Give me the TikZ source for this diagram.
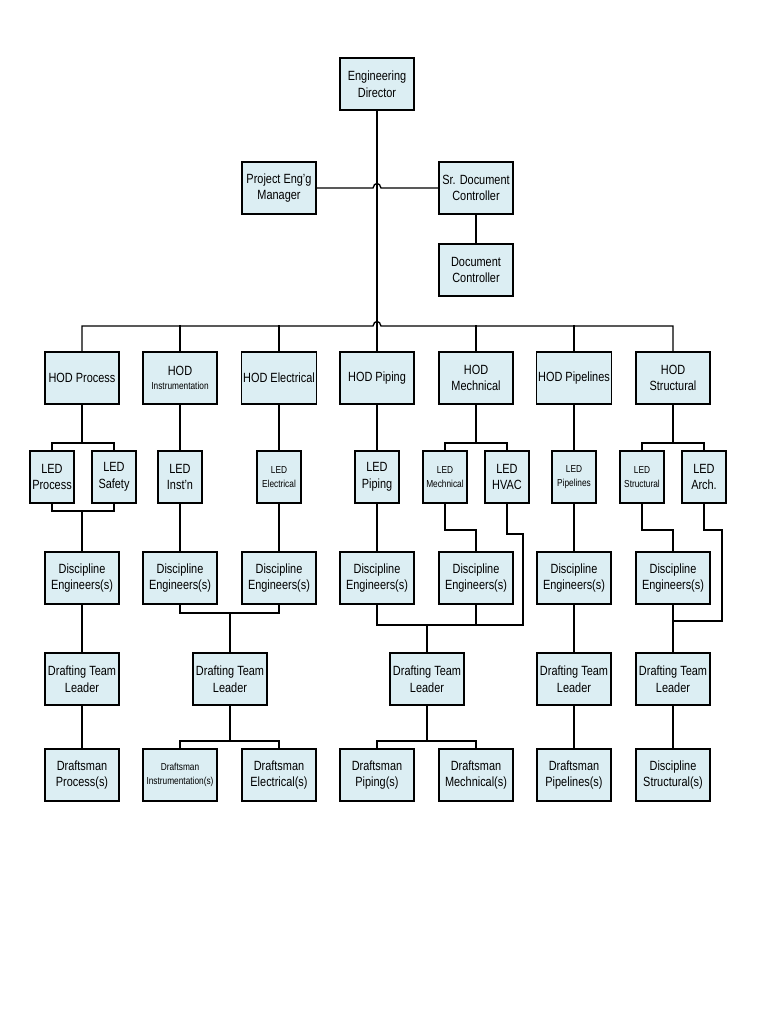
\documentclass[tikz,border=0pt]{standalone}
\usepackage{fontspec}
\setmainfont{Liberation Sans}[FakeStretch=0.82]
\usetikzlibrary{positioning}
\definecolor{boxblue}{RGB}{220,238,243}
\tikzstyle{box} = [rectangle, minimum width=55.5pt, minimum height=39pt, inner sep=1pt, align=center, draw=black, fill=boxblue, line width=0.9pt, font=\fontsize{10}{12.5}\selectfont]
\tikzstyle{led} = [box, minimum width=33pt]
\tikzstyle{tiny} = [font=\fontsize{7.6}{10}\selectfont]
\tikzstyle{line} = [line width=1pt]

\begin{document}
\begin{tikzpicture}[x=0.75pt, y=-0.75pt]
  \useasboundingbox (0,0) rectangle (768,1024);
  % top
  \node (dir) [box] at (377,84) {Engineering\\Director};
  \node (pem) [box] at (279,188) {Project Eng'g\\Manager};
  \node (sdc) [box] at (476,188) {Sr. Document\\Controller};
  \node (dc) [box] at (476,270) {Document\\Controller};
  % HODs
  \node (hproc) [box] at (82,378) {HOD Process};
  \node (hinst) [box, tiny] at (180,378) {\fontsize{10}{12.5}\selectfont HOD\\Instrumentation};
  \node (helec) [box] at (279,378) {HOD Electrical};
  \node (hpip) [box] at (377,378) {HOD Piping};
  \node (hmech) [box] at (476,378) {HOD\\Mechnical};
  \node (hpl) [box] at (574,378) {HOD Pipelines};
  \node (hstr) [box] at (673,378) {HOD\\Structural};
  % LEDs
  \node (lproc) [led] at (52,477) {LED\\Process};
  \node (lsaf) [led] at (114,477) {LED\\Safety};
  \node (linst) [led] at (180,477) {LED\\Inst'n};
  \node (lelec) [led, tiny] at (279,477) {LED\\Electrical};
  \node (lpip) [led] at (377,477) {LED\\Piping};
  \node (lmech) [led, tiny] at (445,477) {LED\\Mechnical};
  \node (lhvac) [led] at (507,477) {LED\\HVAC};
  \node (lpl) [led, tiny] at (574,477) {LED\\Pipelines};
  \node (lstr) [led, tiny] at (642,477) {LED\\Structural};
  \node (larch) [led] at (704,477) {LED\\Arch.};
  % discipline engineers
  \foreach \n/\x in {dproc/82,dinst/180,delec/279,dpip/377,dmech/476,dpl/574,dstr/673}
    \node (\n) [box] at (\x,578) {Discipline\\Engineers(s)};
  % drafting team leaders
  \foreach \n/\x in {tproc/82,tie/230,tpm/427,tpl/574,tstr/673}
    \node (\n) [box] at (\x,679) {Drafting Team\\Leader};
  % draftsmen
  \node (fproc) [box] at (82,775) {Draftsman\\Process(s)};
  \node (finst) [box, tiny] at (180,775) {Draftsman\\Instrumentation(s)};
  \node (felec) [box] at (279,775) {Draftsman\\Electrical(s)};
  \node (fpip) [box] at (377,775) {Draftsman\\Piping(s)};
  \node (fmech) [box] at (476,775) {Draftsman\\Mechnical(s)};
  \node (fpl) [box] at (574,775) {Draftsman\\Pipelines(s)};
  \node (fstr) [box] at (673,775) {Discipline\\Structural(s)};
  %now connect
  \begin{scope}[line]
  \draw (dir) -- (377,326);
  \draw (pem.east) -- (373,188) .. controls (374,182) and (380,182) .. (381,188) -- (sdc.west);
  \draw (sdc) -- (dc);
  \draw (82,352) |- (373,326) .. controls (374,320) and (380,320) .. (381,326) -| (673,352);
  \foreach \n in {hinst,helec,hpip,hmech,hpl}
    \draw (\n.north) -- ++(0,-26);
  \draw (hproc) -- (82,443);
  \draw (lproc.north) |- (82,443) -| (lsaf.north);
  \draw (hinst) -- (linst);
  \draw (helec) -- (lelec);
  \draw (hpip) -- (lpip);
  \draw (hmech) -- (476,443);
  \draw (lmech.north) |- (476,443) -| (lhvac.north);
  \draw (hpl) -- (lpl);
  \draw (hstr) -- (673,443);
  \draw (lstr.north) |- (673,443) -| (larch.north);
  \draw (lproc.south) |- (82,511) -| (lsaf.south);
  \draw (82,511) -- (dproc);
  \draw (linst) -- (dinst);
  \draw (lelec) -- (delec);
  \draw (lpip) -- (dpip);
  \draw (lmech.south) |- (476,530) -- (dmech.north);
  \draw (lhvac.south) |- (523,534) |- (427,625);
  \draw (lpl) -- (dpl);
  \draw (lstr.south) |- (673,530) -- (dstr.north);
  \draw (larch.south) |- (722,530) |- (673,621);
  \draw (dproc) -- (tproc);
  \draw (dinst.south) |- (230,613) -| (delec.south);
  \draw (230,613) -- (tie);
  \draw (dpip.south) |- (427,625) -| (dmech.south);
  \draw (427,625) -- (tpm);
  \draw (dpl) -- (tpl);
  \draw (dstr) -- (tstr);
  \draw (tproc) -- (fproc);
  \draw (tie) -- (230,741);
  \draw (finst.north) |- (230,741) -| (felec.north);
  \draw (tpm) -- (427,741);
  \draw (fpip.north) |- (427,741) -| (fmech.north);
  \draw (tpl) -- (fpl);
  \draw (tstr) -- (fstr);
  \end{scope}
\end{tikzpicture}
\end{document}
